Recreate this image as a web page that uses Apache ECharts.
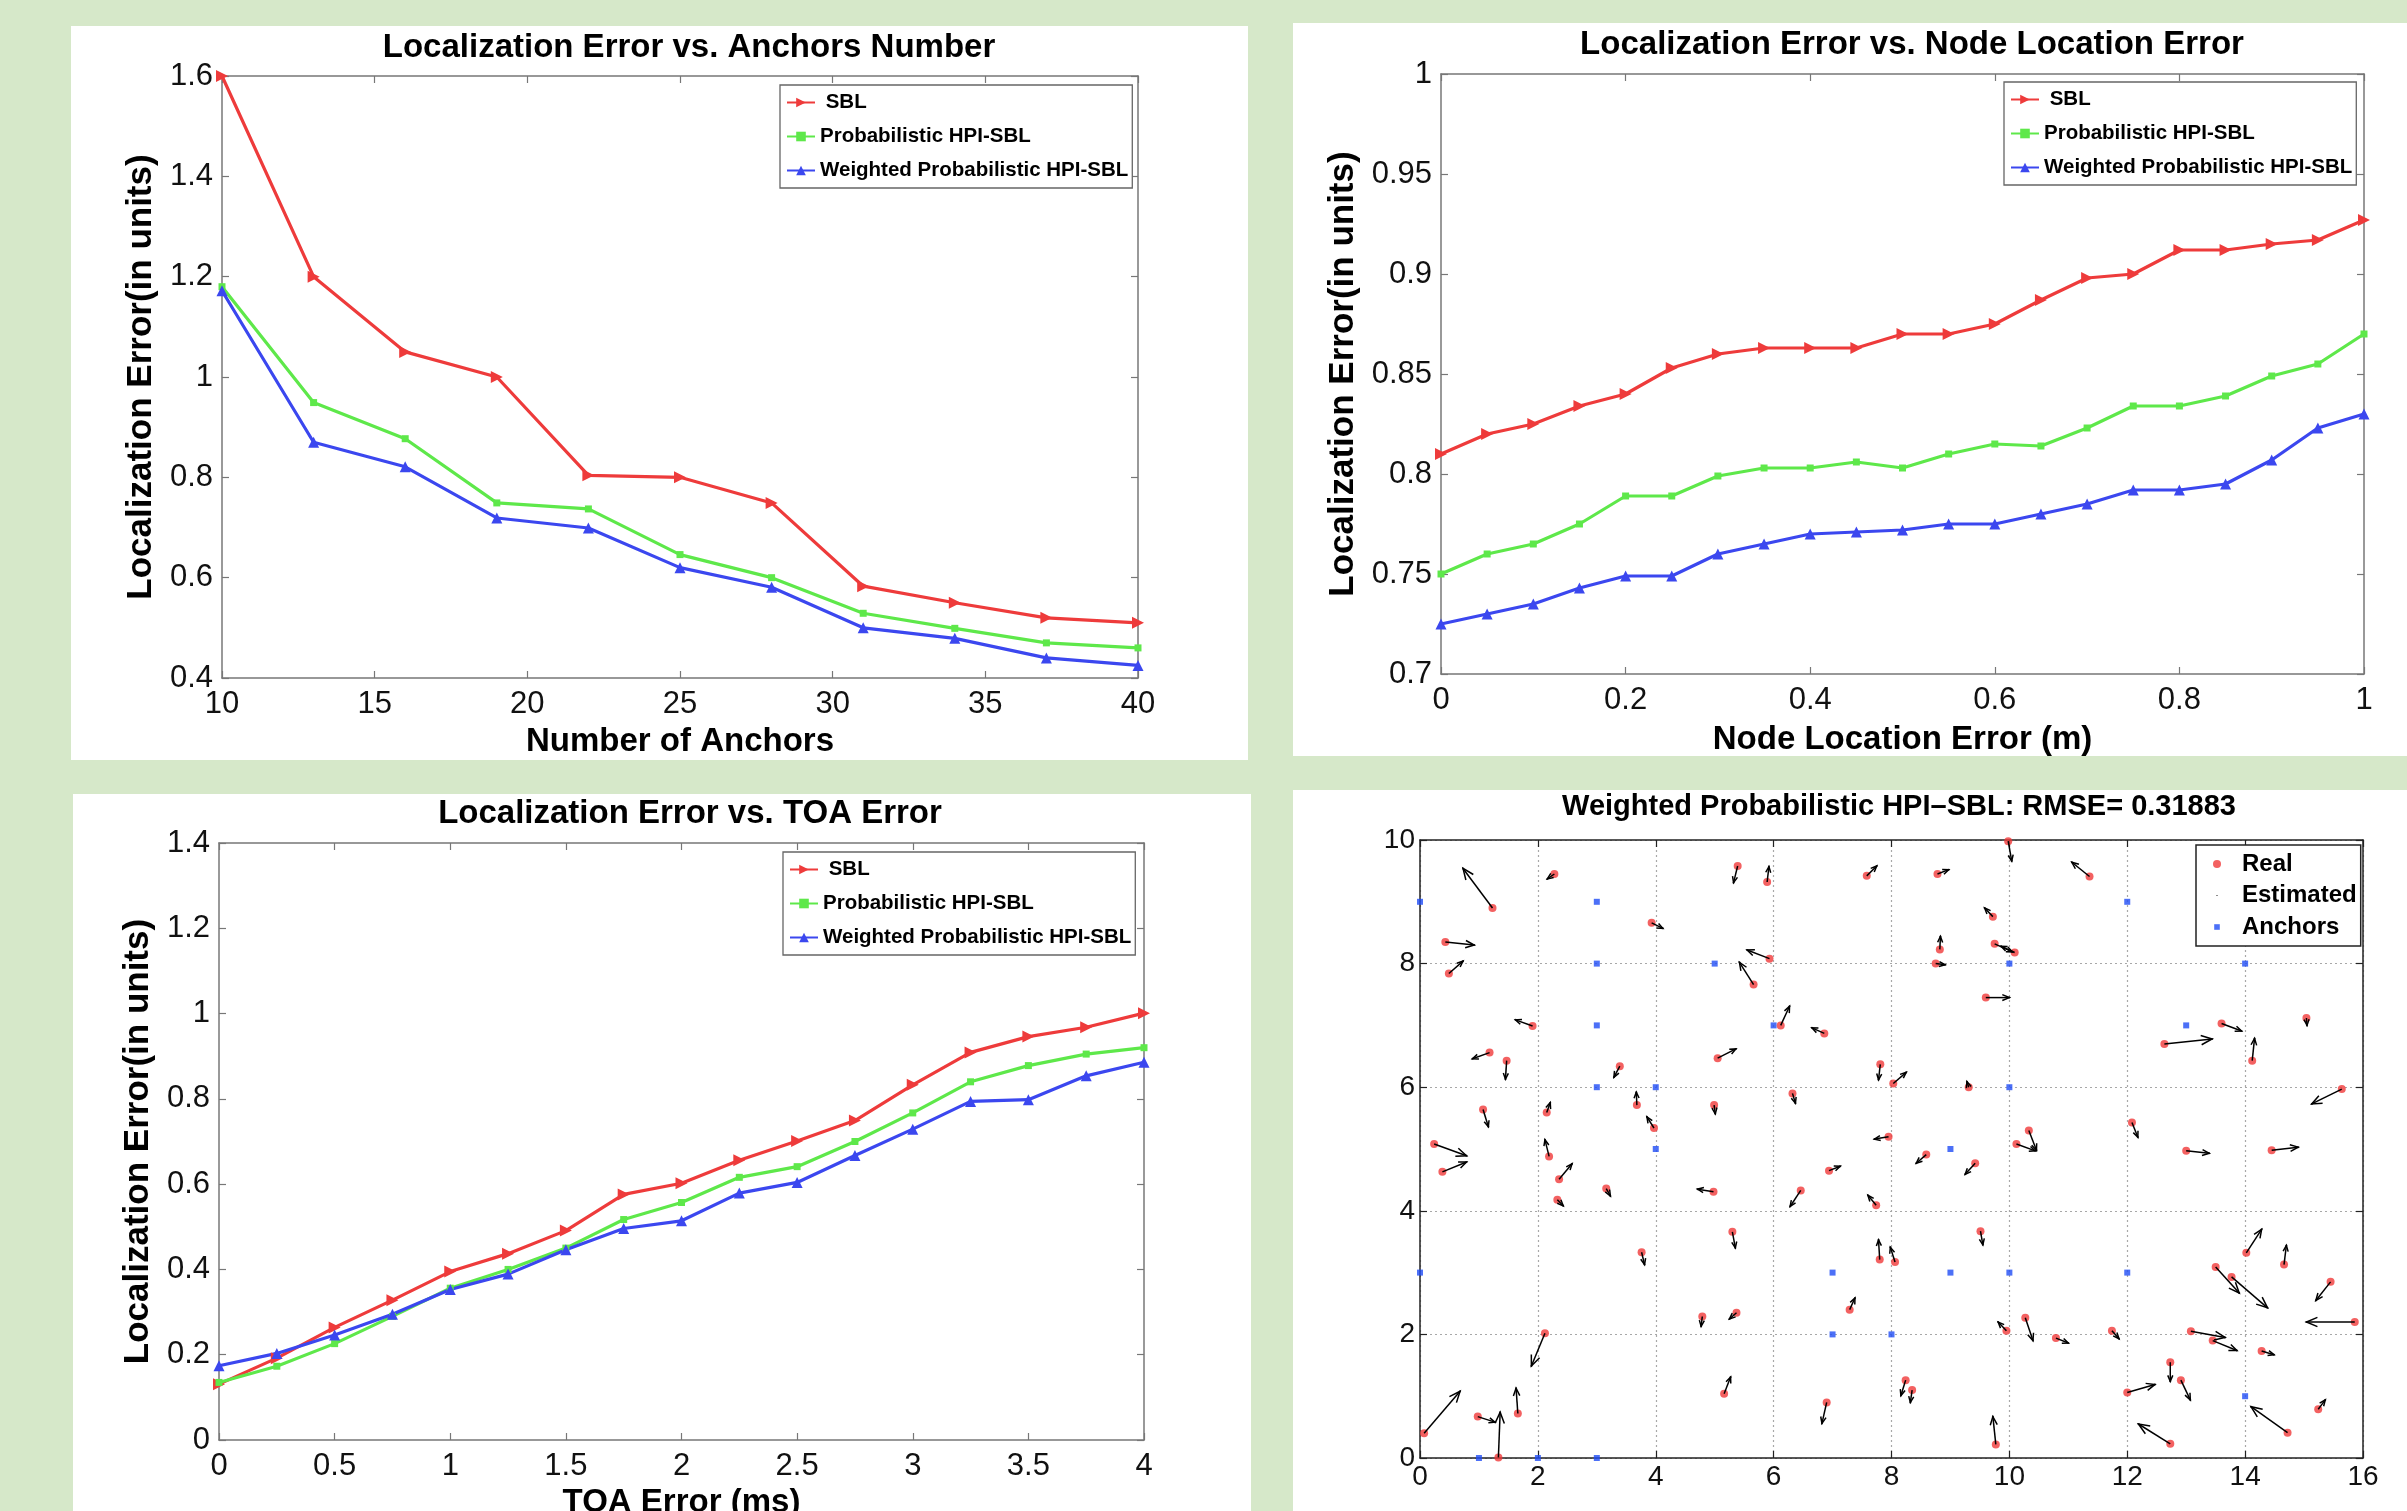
<!DOCTYPE html>
<html><head><meta charset="utf-8">
<script src="https://cdn.jsdelivr.net/npm/echarts@6/dist/echarts.min.js"></script>
<style>
html,body{margin:0;padding:0;background:#d6e8c9;width:2407px;height:1511px;overflow:hidden;}
.p{position:absolute;background:#fff;}
</style></head><body>
<div id="p1" class="p" style="left:71px;top:26px;width:1177px;height:734px"></div>
<div id="p2" class="p" style="left:1293px;top:23px;width:1114px;height:733px"></div>
<div id="p3" class="p" style="left:73px;top:794px;width:1178px;height:717px"></div>
<div id="p4" class="p" style="left:1293px;top:790px;width:1114px;height:721px"></div>
<script>
// ---------- Panel 1: Localization Error vs. Anchors Number ----------
const anchorsNum = [10,13,16,19,22,25,28,31,34,37,40];
const p1SBL  = [1.60,1.20,1.05,1.00,0.804,0.80,0.749,0.583,0.55,0.52,0.51];
const p1Prob = [1.18,0.949,0.877,0.749,0.737,0.646,0.60,0.529,0.499,0.47,0.46];
const p1WProb= [1.172,0.87,0.821,0.719,0.699,0.62,0.581,0.50,0.479,0.44,0.425];
// ---------- Panel 2: Localization Error vs. Node Location Error ----------
const nodeErr = [0,0.05,0.1,0.15,0.2,0.25,0.3,0.35,0.4,0.45,0.5,0.55,0.6,0.65,0.7,0.75,0.8,0.85,0.9,0.95,1];
const p2SBL  = [0.810,0.820,0.825,0.834,0.840,0.853,0.860,0.863,0.863,0.863,0.870,0.870,0.875,0.887,0.898,0.900,0.912,0.912,0.915,0.917,0.927];
const p2Prob = [0.750,0.760,0.765,0.775,0.789,0.789,0.799,0.803,0.803,0.806,0.803,0.810,0.815,0.814,0.823,0.834,0.834,0.839,0.849,0.855,0.870];
const p2WProb= [0.725,0.730,0.735,0.743,0.749,0.749,0.760,0.765,0.770,0.771,0.772,0.775,0.775,0.780,0.785,0.792,0.792,0.795,0.807,0.823,0.830];
// ---------- Panel 3: Localization Error vs. TOA Error ----------
const toaErr = [0,0.25,0.5,0.75,1,1.25,1.5,1.75,2,2.25,2.5,2.75,3,3.25,3.5,3.75,4];
const p3SBL  = [0.131,0.192,0.264,0.328,0.395,0.437,0.491,0.576,0.602,0.656,0.701,0.749,0.833,0.909,0.946,0.968,1.001];
const p3Prob = [0.135,0.173,0.226,0.290,0.356,0.400,0.450,0.517,0.557,0.616,0.641,0.700,0.767,0.840,0.878,0.905,0.920];
const p3WProb= [0.174,0.203,0.246,0.295,0.353,0.389,0.446,0.496,0.514,0.579,0.604,0.667,0.729,0.794,0.798,0.854,0.886];
// ---------- Panel 4: node map ----------
const realX = [1.23,2.28,0.43,0.49,3.93,5.39,5.89,7.58,5.93,5.66,1.91,6.12,6.86,1.18,1.47,3.39,5.05,7.81,1.07,2.15,3.68,3.97,4.99,6.32,7.95,
  9.98,8.78,11.36,9.72,8.82,9.75,10.09,8.75,9.60,13.60,12.63,14.12,15.04,15.64,8.03,9.31,12.08,10.33,10.12,
  0.24,0.38,2.19,2.36,2.33,3.16,4.98,6.46,6.94,7.74,3.76,5.30,7.80,8.06,4.79,5.37,7.29,2.12,0.07,0.98,1.33,1.66,5.16,6.90,
  8.59,9.42,13.0,14.45,9.51,14.02,14.66,13.50,13.77,15.45,15.86,9.95,10.27,10.79,11.74,13.08,13.45,14.28,8.24,8.35,9.77,12.00,12.73,12.91,12.73,14.72,15.24];
const realY = [8.90,9.45,8.35,7.84,8.66,9.58,9.32,9.42,8.08,7.66,6.99,7.00,6.87,6.56,6.43,6.34,6.47,6.37,5.64,5.59,5.71,5.34,5.71,5.90,5.20,
  9.98,9.45,9.41,8.76,8.23,8.32,8.18,8.00,7.45,7.03,6.70,6.43,7.12,5.97,6.06,6.00,5.43,5.30,5.08,
  5.08,4.63,4.88,4.51,4.18,4.36,4.31,4.33,4.65,4.09,3.33,3.66,3.21,3.17,2.29,2.35,2.40,2.02,0.40,0.67,0.01,0.72,1.04,0.90,
  4.91,4.77,4.97,4.98,3.67,3.32,3.13,3.09,2.93,2.85,2.20,2.06,2.27,1.94,2.06,2.05,1.90,1.73,1.26,1.10,0.22,1.06,1.55,1.26,0.23,0.41,0.79];
const estX = [0.73,2.16,0.92,0.73,4.12,5.32,5.92,7.75,5.55,5.42,1.62,6.27,6.65,0.89,1.45,3.29,5.36,7.78,1.16,2.21,3.67,3.85,5.01,6.37,7.71,
  10.04,8.97,11.06,9.58,8.83,10.05,9.86,8.91,10.0,13.94,13.44,14.16,15.05,15.13,8.25,9.28,12.18,10.46,10.44,
  0.79,0.79,2.12,2.58,2.43,3.23,4.71,6.28,7.13,7.60,3.81,5.35,7.78,7.98,4.77,5.25,7.38,1.89,0.68,1.27,1.36,1.63,5.27,6.82,
  8.42,9.25,13.39,14.90,9.55,14.28,14.70,13.90,14.38,15.20,15.04,9.81,10.40,11.00,11.86,13.66,13.86,14.49,8.16,8.32,9.72,12.47,12.73,13.07,12.19,14.10,15.36];
const estY = [9.54,9.37,8.30,8.04,8.57,9.31,9.57,9.58,8.22,8.02,7.09,7.31,6.96,6.46,6.13,6.16,6.62,6.12,5.36,5.75,5.92,5.52,5.57,5.74,5.16,
  9.66,9.52,9.64,8.90,8.44,8.19,8.28,7.98,7.45,6.91,6.78,6.79,7.00,5.73,6.24,6.09,5.19,4.98,4.97,
  4.89,4.79,5.15,4.76,4.08,4.24,4.35,4.07,4.72,4.25,3.13,3.40,3.53,3.41,2.13,2.25,2.59,1.49,1.08,0.58,0.74,1.13,1.31,0.56,
  4.77,4.59,4.93,5.03,3.45,3.70,3.44,2.67,2.43,2.55,2.20,2.20,1.90,1.86,1.93,1.95,1.74,1.67,1.01,0.90,0.67,1.19,1.24,0.94,0.55,0.83,0.94];
const anchorX = [0,3,12,3,5,10,14,3,6,13,3,4,10,4,9,0,7,9,10,12,7,8,14,1,2,3];
const anchorY = [9,9,9,8,8,8,8,7,7,7,6,6,6,5,5,3,3,3,3,3,2,2,1,0,0,0];

const FF = '"Liberation Sans", Arial, Helvetica, sans-serif';
const RED = '#ee3b3b', GREEN = '#5ee84a', BLUE = '#3b47ef';
const names = ['SBL','Probabilistic HPI-SBL','Weighted Probabilistic HPI-SBL'];

function lineSeries(xs, ys, name, color, symbol, size, rot) {
  return {type:'line', name, data: xs.map((x,i)=>[x, ys[i]]), symbol, symbolSize:size, symbolRotate:rot||0,
    showAllSymbol:true, lineStyle:{width:3.2, color}, itemStyle:{color}, color, animation:false, z:3};
}
function valAxis(pos, min, max, interval, fs, margin, show, ax, extra) {
  return Object.assign({type:'value', position:pos, min, max, interval,
    axisLine:{show:true, onZero:false, lineStyle:{color:ax, width:1.5}},
    axisTick:{show:true, inside:true, length:7, lineStyle:{color:ax, width:1.2}},
    axisLabel:{show, fontSize:fs, fontFamily:FF, color:'#111', margin, showMinLabel:true, showMaxLabel:true},
    splitLine:{show:false}}, extra||{});
}
function titleG(text, x, y, fs) {
  return {type:'text', x, y, silent:true, style:{text, fontSize:fs, fontWeight:'bold', fontFamily:FF, fill:'#000',
    textAlign:'center', textVerticalAlign:'top', align:'center', verticalAlign:'top'}};
}
function lineLegend(left, top) {
  return {data:names, orient:'vertical', left, top, itemWidth:28, itemHeight:12, itemGap:13,
    padding:[7,4,7,6], backgroundColor:'#fff', borderColor:'#666', borderWidth:1.3, borderRadius:0,
    formatter: n => n === 'SBL' ? ' SBL' : n,
    textStyle:{fontSize:20.5, fontWeight:'bold', fontFamily:FF, color:'#000', lineHeight:21}, selectedMode:false};
}
function linePanel(el, cfg) {
  const c = echarts.init(document.getElementById(el), null, {renderer:'canvas'});
  const nameStyle = {fontSize:33, fontWeight:'bold', fontFamily:FF, color:'#000'};
  const AX = '#777';
  c.setOption({
    animation:false,
    grid:{left:cfg.g[0], top:cfg.g[1], width:cfg.g[2], height:cfg.g[3], containLabel:false, outerBoundsMode:'none'},
    graphic:[titleG(cfg.title, cfg.tx, cfg.ty, 33)],
    legend: lineLegend(cfg.lg[0], cfg.lg[1]),
    xAxis:[valAxis('bottom', cfg.x[0], cfg.x[1], cfg.x[2], 31, 11, true, AX,
              {name:cfg.xname, nameLocation:'middle', nameGap:cfg.xgap, nameTextStyle:nameStyle}),
           valAxis('top', cfg.x[0], cfg.x[1], cfg.x[2], 31, 8, false, AX)],
    yAxis:[valAxis('left', cfg.y[0], cfg.y[1], cfg.y[2], 31, 9, true, AX,
              {name:'Localization Error(in units)', nameLocation:'middle', nameGap:cfg.ygap,
               nameTextStyle:{fontSize:35, fontWeight:'bold', fontFamily:FF, color:'#000'}}),
           valAxis('right', cfg.y[0], cfg.y[1], cfg.y[2], 31, 8, false, AX)],
    series:[
      lineSeries(cfg.xs, cfg.s[0], names[0], RED, 'triangle', 12, -90),
      lineSeries(cfg.xs, cfg.s[1], names[1], GREEN, 'rect', 7),
      lineSeries(cfg.xs, cfg.s[2], names[2], BLUE, 'triangle', 11)
    ]
  });
}
linePanel('p1', {g:[151,50,916,602], title:'Localization Error vs. Anchors Number', tx:618, ty:5,
  lg:[709,59], x:[10,40,5], y:[0.4,1.6,0.2], xs:anchorsNum, s:[p1SBL,p1Prob,p1WProb],
  xname:'Number of Anchors', xgap:47, ygap:47});
linePanel('p2', {g:[148,51,923,600], title:'Localization Error vs. Node Location Error', tx:619, ty:5,
  lg:[711,59], x:[0,1,0.2], y:[0.7,1,0.05], xs:nodeErr, s:[p2SBL,p2Prob,p2WProb],
  xname:'Node Location Error (m)', xgap:49, ygap:67});
linePanel('p3', {g:[146,49,925,597], title:'Localization Error vs. TOA Error', tx:617, ty:3,
  lg:[710,58], x:[0,4,0.5], y:[0,1.4,0.2], xs:toaErr, s:[p3SBL,p3Prob,p3WProb],
  xname:'TOA Error (ms)', xgap:46, ygap:50});

// ---------- Panel 4 ----------
(function(){
  const c = echarts.init(document.getElementById('p4'), null, {renderer:'canvas'});
  const AX = '#222';
  const grid = {lineStyle:{color:'#a8a8a8', width:1.2, type:[2,3]}};
  const arrowData = realX.map((x,i)=>[x, realY[i], estX[i], estY[i]]);
  c.setOption({
    animation:false,
    grid:{left:127, top:50, width:943, height:618, containLabel:false, outerBoundsMode:'none'},
    graphic:[titleG('Weighted Probabilistic HPI\u2013SBL: RMSE= 0.31883', 606, 2, 29)],
    legend:{data:[
        {name:'Real', icon:'circle'},
        {name:'Estimated', icon:'path://M0,0M10,10M4.3,4.3L5.7,4.3L5.7,5.7L4.3,5.7Z'},
        {name:'Anchors', icon:'path://M0,0M10,10M1.5,1.5L8.5,1.5L8.5,8.5L1.5,8.5Z'}],
      orient:'vertical', left:903, top:55, itemWidth:40, itemHeight:8, itemGap:7.5,
      padding:[7,4,7,17], backgroundColor:'#fff', borderColor:'#222', borderWidth:1.5, selectedMode:false,
      textStyle:{fontSize:24, fontWeight:'bold', fontFamily:FF, color:'#000', lineHeight:24}},
    xAxis:[valAxis('bottom', 0, 16, 2, 28, 5, true, AX, {splitLine:Object.assign({show:true}, grid)}),
           valAxis('top', 0, 16, 2, 28, 5, false, AX)],
    yAxis:[valAxis('left', 0, 10, 2, 28, 5, true, AX, {splitLine:Object.assign({show:true}, grid)}),
           valAxis('right', 0, 10, 2, 28, 5, false, AX)],
    series:[
      {type:'scatter', name:'Anchors', data:anchorX.map((x,i)=>[x, anchorY[i]]), symbol:'rect', symbolSize:6,
        itemStyle:{color:'#1f4cf5'}, z:2},
      {type:'scatter', name:'Real', data:realX.map((x,i)=>[x, realY[i]]), symbol:'circle', symbolSize:8,
        itemStyle:{color:'#f03a3a'}, z:3},
      {type:'custom', name:'arrows', data:arrowData, encode:{x:[0,2], y:[1,3]}, z:4, silent:true, clip:false,
        renderItem:function(params, api){
          const a = api.coord([api.value(0), api.value(1)]);
          const b = api.coord([api.value(2), api.value(3)]);
          const dx = b[0]-a[0], dy = b[1]-a[1];
          const L = Math.hypot(dx, dy) || 1;
          const ux = dx/L, uy = dy/L;
          const h = Math.min(11, Math.max(6, L*0.3));
          const w = h*0.42;
          const bx = b[0]-ux*h, by = b[1]-uy*h;
          return {type:'group', children:[
            {type:'line', shape:{x1:a[0], y1:a[1], x2:b[0], y2:b[1]}, style:{stroke:'#000', lineWidth:1.5}},
            {type:'polyline', shape:{points:[[bx-uy*w, by+ux*w],[b[0],b[1]],[bx+uy*w, by-ux*w]]},
              style:{stroke:'#000', lineWidth:1.5, fill:null}}
          ]};
        }},
      {type:'scatter', name:'Estimated', data:estX.map((x,i)=>[x, estY[i]]), symbol:'circle', symbolSize:2,
        itemStyle:{color:'#000'}, z:5}
    ]
  });
})();
</script>
</body></html>
